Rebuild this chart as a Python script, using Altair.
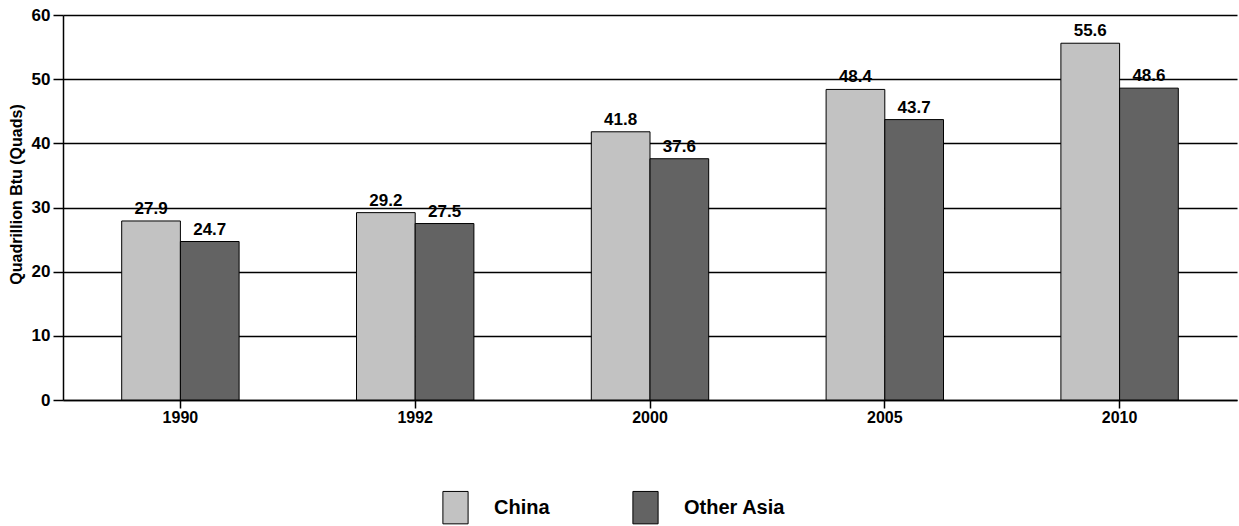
import altair as alt
import pandas as pd

years = ["1990", "1992", "2000", "2005", "2010"]
regions = ["China", "Other Asia"]
china = [27.9, 29.2, 41.8, 48.4, 55.6]
other_asia = [24.7, 27.5, 37.6, 43.7, 48.6]
y_ticks = [0, 10, 20, 30, 40, 50, 60]

rows = []
for i, y in enumerate(years):
    rows.append({"year": y, "region": "China", "value": china[i]})
    rows.append({"year": y, "region": "Other Asia", "value": other_asia[i]})
df = pd.DataFrame(rows)

FONT = "Liberation Sans"

x_enc = alt.X(
    "year:N",
    sort=years,
    title=None,
    scale=alt.Scale(paddingInner=0.5, paddingOuter=0.25),
    axis=alt.Axis(
        labelAngle=0,
        labelFont=FONT,
        labelFontSize=16,
        labelFontWeight="bold",
        labelColor="black",
        labelPadding=1,
        domainColor="black",
        domainWidth=1.5,
        tickColor="black",
        tickSize=8,
        tickWidth=1.5,
        grid=False,
    ),
)
y_enc = alt.Y(
    "value:Q",
    scale=alt.Scale(domain=[0, 60], nice=False),
    title="Quadrillion Btu (Quads)",
    axis=alt.Axis(
        values=y_ticks,
        format="d",
        grid=True,
        gridColor="black",
        gridWidth=1.5,
        domainColor="black",
        domainWidth=1.5,
        tickColor="black",
        tickSize=10,
        tickWidth=1.5,
        labelFont=FONT,
        labelFontSize=17,
        labelFontWeight="bold",
        labelColor="black",
        labelPadding=3,
        titleFont=FONT,
        titleFontSize=16,
        titleFontWeight="bold",
        titleColor="black",
        titlePadding=7,
        titleY=179,
    ),
)
xoff = alt.XOffset("region:N", sort=regions)

color = alt.Color(
    "region:N",
    sort=regions,
    scale=alt.Scale(domain=regions, range=["#c2c2c2", "#636363"]),
    legend=alt.Legend(
        title=None,
        orient="none",
        legendX=374,
        legendY=474,
        direction="horizontal",
        symbolType="M-0.7,-0.9H0.7V0.9H-0.7Z",
        symbolSize=1296,
        symbolStrokeColor="black",
        symbolStrokeWidth=1,
        labelFont=FONT,
        labelFontSize=20,
        labelFontWeight="bold",
        labelColor="black",
        labelOffset=20,
        columnPadding=77,
    ),
)

bars = alt.Chart(df).mark_bar(stroke="black", strokeWidth=1, opacity=1).encode(
    x=x_enc, xOffset=xoff, y=y_enc, color=color
)
labels = alt.Chart(df).mark_text(
    baseline="bottom", dy=-3, font=FONT, fontSize=17, fontWeight="bold", color="black"
).encode(
    x=alt.X("year:N", sort=years),
    xOffset=xoff,
    y="value:Q",
    text=alt.Text("value:Q", format=".1f"),
)

chart = (
    alt.layer(bars, labels)
    .properties(
        width=1174,
        height=385,
        autosize=alt.AutoSizeParams(type="none"),
        padding={"left": 63, "top": 15, "right": 2, "bottom": 126},
        background="white",
    )
    .configure_view(stroke=None)
)

chart.save("out.html", embed_options={"renderer": "svg", "actions": False})
